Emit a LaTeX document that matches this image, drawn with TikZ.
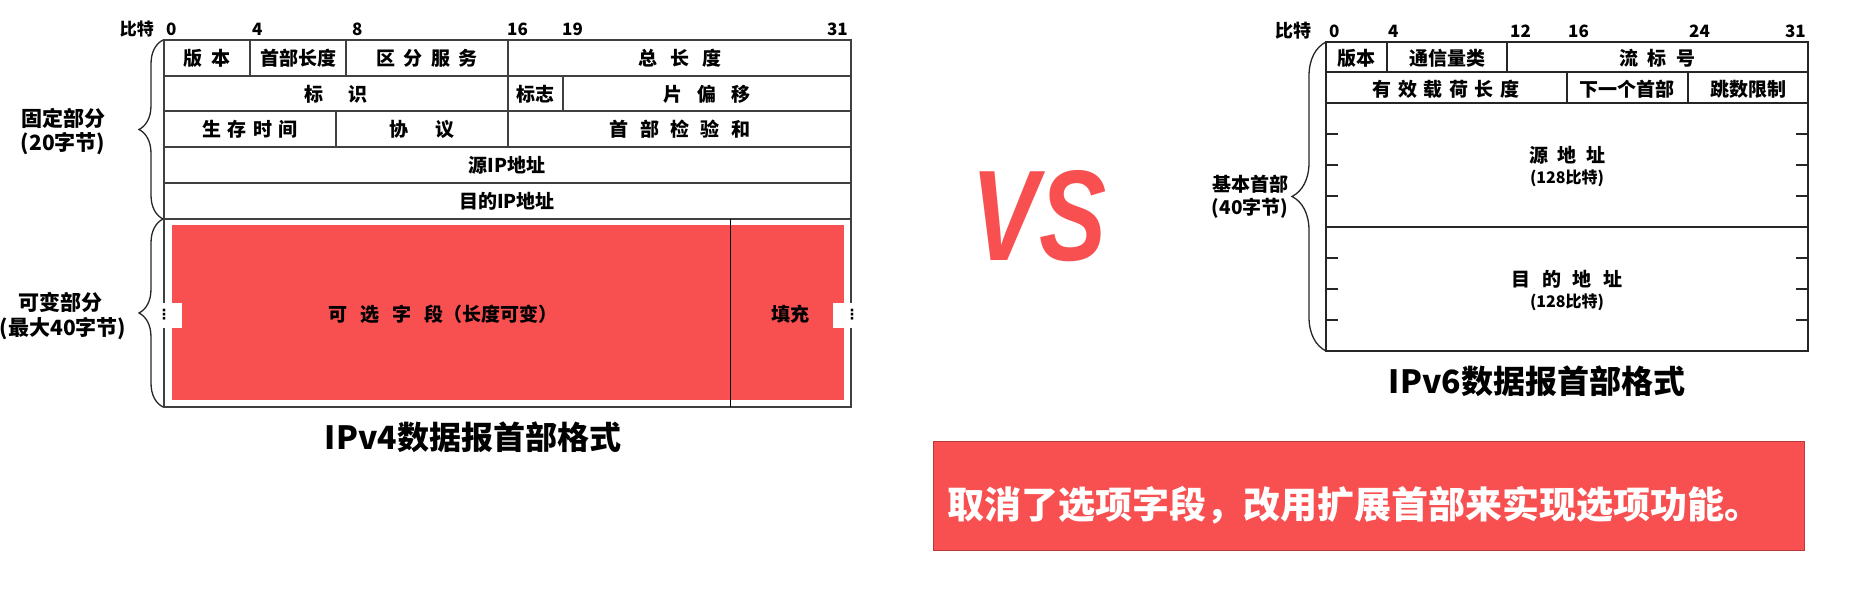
\documentclass[tikz,border=0pt]{standalone}
\usepackage{fontspec}
\setmainfont{Noto Sans CJK SC}
\newfontfamily\vsfnt{Liberation Sans}[FakeStretch=0.78]
\newfontfamily\dotfnt{DejaVu Sans}
\usetikzlibrary{decorations.pathreplacing}
\definecolor{alarm}{HTML}{F84F50}
\newcommand{\gp}[1]{\hspace{#1em}}

\begin{document}
\begin{tikzpicture}[x=1pt, y=-1pt,
    frame/.style={draw=black!75, line width=1.6pt},
    cell/.style={font=\fontsize{19}{22}\selectfont\bfseries, inner sep=0pt},
    small/.style={font=\fontsize{16}{19}\selectfont\bfseries, inner sep=0pt},
    bitno/.style={font=\fontsize{17}{20}\selectfont\bfseries, inner sep=0pt},
    side/.style={font=\fontsize{21}{25}\selectfont\bfseries, inner sep=0pt},
    title/.style={font=\fontsize{32}{36}\selectfont\bfseries, inner sep=0pt},
    curly/.style={decorate, decoration={brace, amplitude=24pt}, line width=1.3pt, draw=black!85},
    patch/.style={fill=white, draw=none},
  ]
  \useasboundingbox (0,0) rectangle (1866,596);

  % IPv4 header
  \fill[alarm] (172,225) rectangle (844,400);
  \draw[frame] (164,40) rectangle (851,407);
  \foreach \y in {76,111,147,183,219}
    \draw[frame] (164,\y) -- (851,\y);
  \draw[frame] (250,40) -- (250,76);
  \draw[frame] (346,40) -- (346,76);
  \draw[frame] (508,40) -- (508,147);
  \draw[frame] (563,76) -- (563,111);
  \draw[frame] (336,111) -- (336,147);
  \draw[line width=1pt] (730,219) -- (730,407);

  \node[bitno, anchor=base east] (v4bit) at (154,36) {比特};
  \node[bitno, anchor=base west] (v4b0) at (166,36) {0};
  \node[bitno, anchor=base west] (v4b4) at (252,36) {4};
  \node[bitno, anchor=base west] (v4b8) at (352,36) {8};
  \node[bitno, anchor=base west] (v4b16) at (507,36) {16};
  \node[bitno, anchor=base west] (v4b19) at (562,36) {19};
  \node[bitno, anchor=base east] (v4b31) at (848,36) {31};

  \node[cell] (v4ver) at (207,58) {版\gp{.5}本};
  \node[cell] (v4ihl) at (298,58) {首部长度};
  \node[cell] (v4tos) at (427,58) {区\gp{.45}分\gp{.45}服\gp{.45}务};
  \node[cell] (v4len) at (680,58) {总\gp{.7}长\gp{.7}度};
  \node[cell] (v4id) at (336,94) {标\gp{1.3}识};
  \node[cell] (v4flag) at (535,94) {标志};
  \node[cell] (v4frag) at (707,94) {片\gp{.8}偏\gp{.8}移};
  \node[cell] (v4ttl) at (250,129) {生\gp{.35}存\gp{.35}时\gp{.35}间};
  \node[cell] (v4proto) at (422,129) {协\gp{1.4}议};
  \node[cell] (v4sum) at (680,129) {首\gp{.6}部\gp{.6}检\gp{.6}验\gp{.6}和};
  \node[cell] (v4src) at (507,165) {源IP地址};
  \node[cell] (v4dst) at (507,201) {目的IP地址};
  \node[cell] (v4opt) at (443,314) {可\gp{.7}选\gp{.7}字\gp{.7}段（长度可变）};
  \node[cell] (v4pad) at (790,314) {填充};

  \fill[patch] (152,303) rectangle (182,328);
  \fill[patch] (833,303) rectangle (870,328);
  \node[font=\dotfnt\fontsize{14}{14}\selectfont\bfseries, inner sep=0pt] (v4dl) at (164,315) {⋮};
  \node[font=\dotfnt\fontsize{14}{14}\selectfont\bfseries, inner sep=0pt] (v4dr) at (852,315) {⋮};

  \draw[curly] (163,219) -- (163,40);
  \draw[curly] (163,407) -- (163,219);
  \node[side] (v4fix) at (63,118) {固定部分};
  \node[side] (v4fixn) at (63,144) {(20字节)};
  \node[side] (v4var) at (60,302) {可变部分};
  \node[side] (v4varn) at (63,329) {(最大40字节)};

  \node[title] (v4title) at (473,437) {IPv4数据报首部格式};

  % versus
  \node[font=\vsfnt\fontsize{129}{130}\selectfont\bfseries\itshape, text=alarm, inner sep=0pt]
    (vs) at (1039,216) {VS};

  % IPv6 header
  \draw[frame, draw=black!85] (1326,42) rectangle (1808,351);
  \foreach \y in {72,103,227}
    \draw[frame, draw=black!85] (1326,\y) -- (1808,\y);
  \draw[frame, draw=black!85] (1387,42) -- (1387,72);
  \draw[frame, draw=black!85] (1507,42) -- (1507,72);
  \draw[frame, draw=black!85] (1567,72) -- (1567,103);
  \draw[frame, draw=black!85] (1688,72) -- (1688,103);
  \foreach \y in {134,165,196,258,289,320} {
    \draw[frame, draw=black!85] (1326,\y) -- (1338,\y);
    \draw[frame, draw=black!85] (1796,\y) -- (1808,\y);
  }

  \node[bitno, anchor=base east, font=\fontsize{18}{20}\selectfont\bfseries] (v6bit) at (1312,38) {比特};
  \node[bitno, anchor=base west] (v6b0) at (1329,38) {0};
  \node[bitno, anchor=base west] (v6b4) at (1388,38) {4};
  \node[bitno, anchor=base west] (v6b12) at (1510,38) {12};
  \node[bitno, anchor=base west] (v6b16) at (1568,38) {16};
  \node[bitno, anchor=base west] (v6b24) at (1689,38) {24};
  \node[bitno, anchor=base east] (v6b31) at (1806,38) {31};

  \node[cell] (v6ver) at (1356,58) {版本};
  \node[cell] (v6tc) at (1447,58) {通信量类};
  \node[cell] (v6flow) at (1657,58) {流\gp{.5}标\gp{.5}号};
  \node[cell] (v6len) at (1446,89) {有\gp{.35}效\gp{.35}载\gp{.35}荷\gp{.35}长\gp{.35}度};
  \node[cell] (v6next) at (1627,89) {下一个首部};
  \node[cell] (v6hop) at (1748,89) {跳数限制};
  \node[cell] (v6src) at (1567,155) {源\gp{.5}地\gp{.5}址};
  \node[small] (v6srcn) at (1567,178) {(128比特)};
  \node[cell] (v6dst) at (1567,279) {目\gp{.6}的\gp{.6}地\gp{.6}址};
  \node[small] (v6dstn) at (1567,302) {(128比特)};

  \draw[curly, decoration={brace, amplitude=34pt}] (1326,351) -- (1326,42);
  \node[cell] (v6base) at (1250,184) {基本首部};
  \node[cell] (v6basen) at (1250,208) {(40字节)};

  \node[title] (v6title) at (1537,381) {IPv6数据报首部格式};

  % note
  \draw[fill=alarm, draw=alarm!75!black, line width=1pt] (933,441) rectangle (1804,550);
  \node[font=\fontsize{37}{40}\selectfont\bfseries, text=white, inner sep=0pt] (note) at (1354,505)
    {取消了选项字段，改用扩展首部来实现选项功能。};
\end{tikzpicture}
\end{document}
